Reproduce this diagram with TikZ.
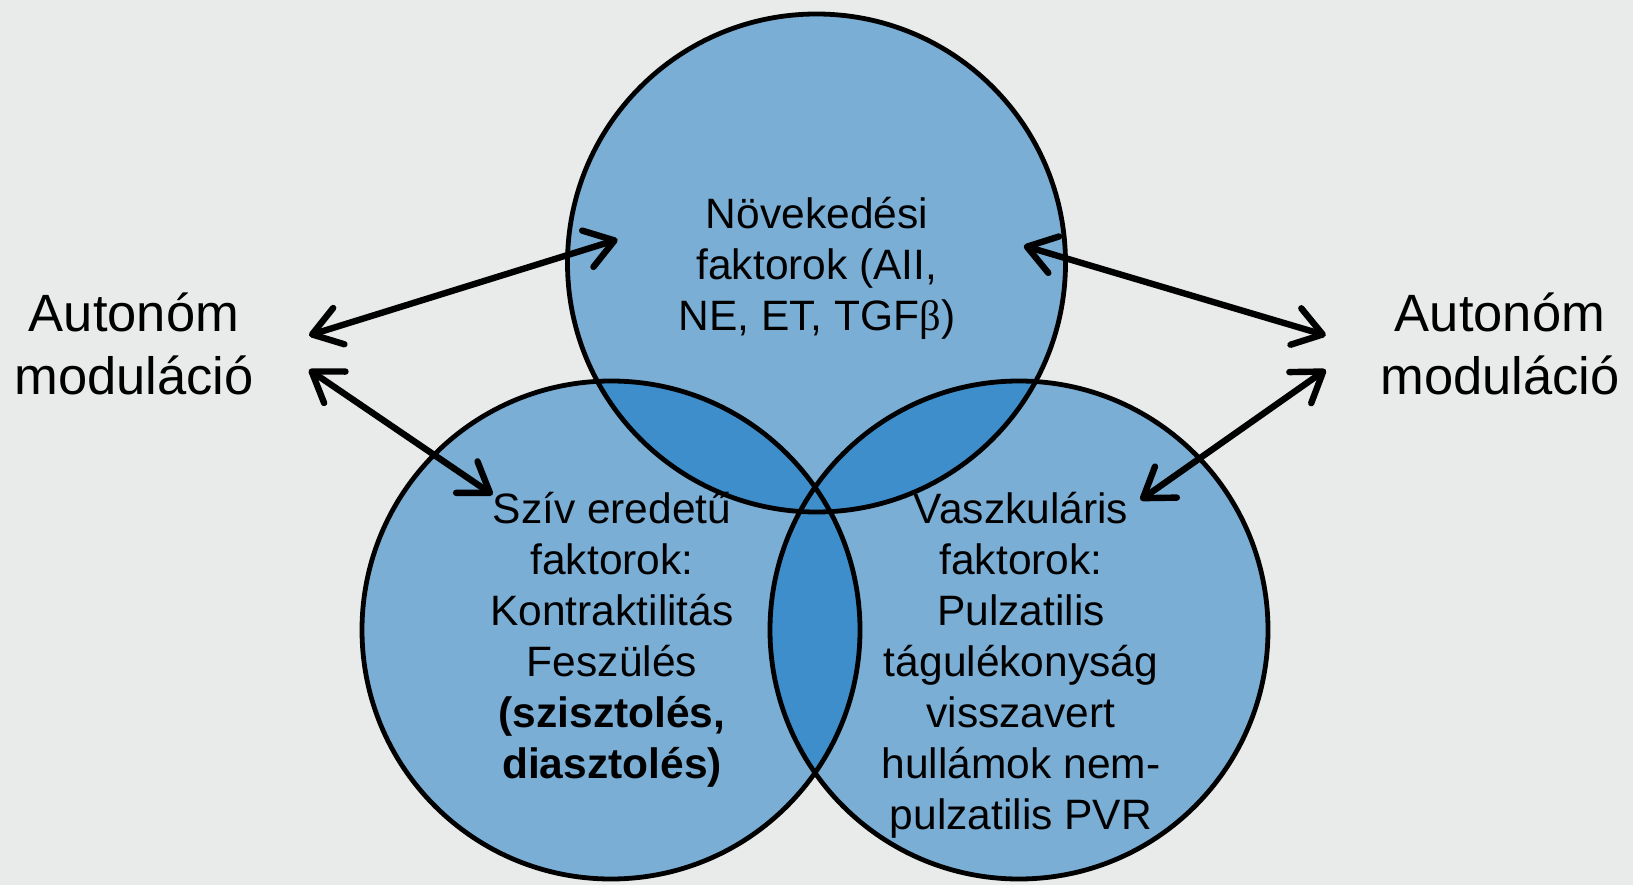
\documentclass[tikz,border=0pt]{standalone}
\usepackage{fontspec}
\setmainfont{Liberation Sans}
\newfontfamily\betafont{Liberation Serif}
\usetikzlibrary{arrows.meta}
\definecolor{bgcol}{RGB}{233,235,234}
\definecolor{circfill}{RGB}{122,174,213}
\definecolor{overlap}{RGB}{61,142,202}

\begin{document}
\begin{tikzpicture}[x=0.5pt,y=0.5pt,
    ring/.style={draw=black,line width=2.4pt},
    factor/.style={align=center,inner sep=0pt,font=\fontsize{21.25pt}{25.5pt}\selectfont},
    autonom/.style={align=center,inner sep=0pt,font=\fontsize{26.25pt}{31.5pt}\selectfont},
    link/.style={line width=3.2pt,line cap=round,
        {Straight Barb[length=14pt,width=19pt,round]}-{Straight Barb[length=14pt,width=19pt,round]}}]
    \fill[bgcol] (0,0) rectangle (1633,885);
    \useasboundingbox (0,0) rectangle (1633,885);
    % circles
    \coordinate (cTop) at (816.5,622);
    \coordinate (cLeft) at (611,255);
    \coordinate (cRight) at (1019,255);
    \fill[circfill] (cTop) circle[radius=249] (cLeft) circle[radius=249] (cRight) circle[radius=249];
    \begin{scope}
        \clip (cTop) circle[radius=249];
        \fill[overlap] (cLeft) circle[radius=249] (cRight) circle[radius=249];
    \end{scope}
    \begin{scope}
        \clip (cLeft) circle[radius=249];
        \fill[overlap] (cRight) circle[radius=249];
    \end{scope}
    \foreach \c in {cTop,cLeft,cRight} {
        \draw[ring] (\c) circle[radius=249];
    }
    % texts
    \node[factor] (novek) at (817,617) {Növekedési\\faktorok (AII,\\NE, ET, TGF{\betafont β})};
    \node[factor] (sziv) at (612,245) {Szív eredetű\\faktorok:\\Kontraktilitás\\Feszülés\\\textbf{(szisztolés,}\\\textbf{diasztolés)}};
    \node[factor] (vaszk) at (1021,220) {Vaszkuláris\\faktorok:\\Pulzatilis\\tágulékonyság\\visszavert\\hullámok nem-\\pulzatilis PVR};
    \node[autonom] (autL) at (134,541) {Autonóm\\moduláció};
    \node[autonom] (autR) at (1500,541) {Autonóm\\moduláció};
    % arrows
    \coordinate (autLa) at (309,549.6);
    \coordinate (autLb) at (309,515.3);
    \coordinate (autRa) at (1325.8,549.6);
    \coordinate (autRb) at (1325.8,515.3);
    \coordinate (novekL) at (617.6,645.5);
    \coordinate (novekR) at (1023.8,639.2);
    \coordinate (szivIn) at (492.6,390.3);
    \coordinate (vaszkIn) at (1140.4,385);
    \draw[link] (autLa) -- (novekL);
    \draw[link] (autLb) -- (szivIn);
    \draw[link] (novekR) -- (autRa);
    \draw[link] (autRb) -- (vaszkIn);
\end{tikzpicture}
\end{document}
